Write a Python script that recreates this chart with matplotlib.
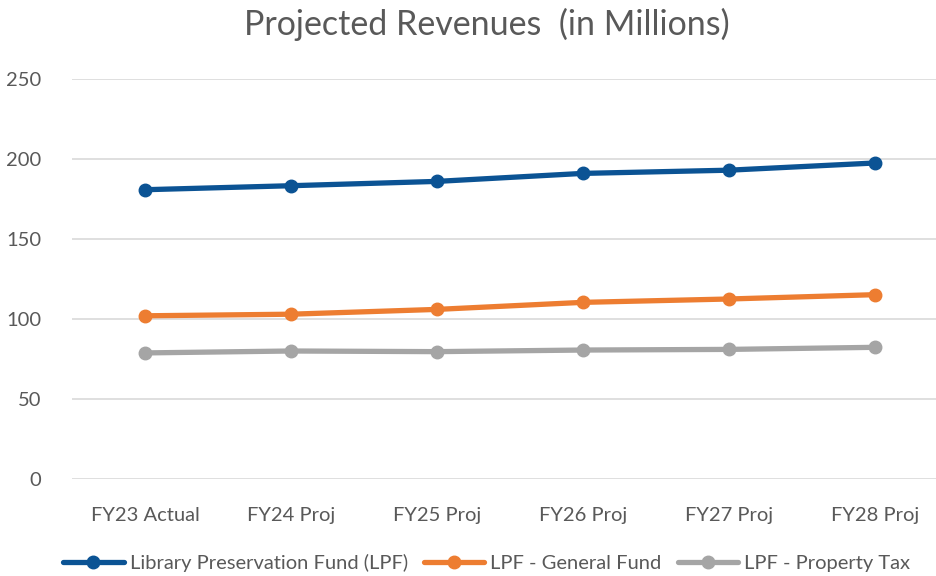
import matplotlib
matplotlib.use("Agg")
import matplotlib.pyplot as plt

categories = ["FY23 Actual", "FY24 Proj", "FY25 Proj", "FY26 Proj", "FY27 Proj", "FY28 Proj"]
lpf_total = [180.8, 183.3, 186.0, 191.0, 193.0, 197.5]
lpf_general = [102.0, 103.0, 106.0, 110.4, 112.5, 115.2]
lpf_property = [78.8, 80.0, 79.6, 80.6, 81.0, 82.3]
series_names = ["Library Preservation Fund (LPF)", "LPF - General Fund", "LPF - Property Tax"]
y_ticks = [0, 50, 100, 150, 200, 250]

plt.rcParams["font.family"] = ["Lato", "DejaVu Sans"]
TEXT = "#595959"

fig = plt.figure(figsize=(9.36, 5.76), dpi=100)
ax = fig.add_axes([72 / 936, 1 - 479 / 576, 1 - 72 / 936, 400 / 576])

x = range(len(categories))
colors = ["#0B5394", "#ED7D31", "#A5A5A5"]
for vals, name, c in zip([lpf_total, lpf_general, lpf_property], series_names, colors):
    ax.plot(x, vals, color=c, lw=3.8, marker="o", markersize=9, label=name,
            solid_capstyle="round", zorder=3)

ax.set_ylim(0, 250)
ax.set_xlim(-0.5, 5.42)
ax.set_yticks(y_ticks)
ax.set_xticks(list(x))
ax.set_xticklabels(categories)
ax.grid(axis="y", color="#D9D9D9", lw=1.2)
ax.set_axisbelow(True)
for s in ax.spines.values():
    s.set_visible(False)
ax.tick_params(length=0, labelsize=14.5, labelcolor=TEXT)
ax.tick_params(axis="x", pad=20)
ax.tick_params(axis="y", pad=22)

fig.text(0.52, 1 - 24 / 576, "Projected Revenues  (in Millions)", ha="center", va="center",
         fontsize=24.5, color=TEXT)

fig.legend(loc="center", bbox_to_anchor=(0.52, 1 - 563 / 576), ncol=3, frameon=False,
           fontsize=14.5, labelcolor=TEXT, handlelength=3.0, handletextpad=0.3,
           columnspacing=0.8)

fig.savefig("out.png", dpi=100)
